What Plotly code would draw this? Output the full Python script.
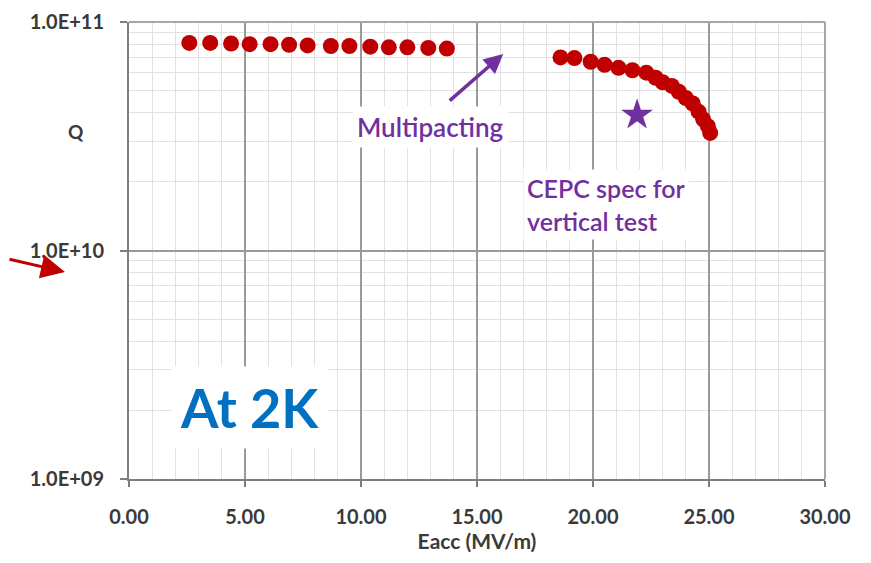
import plotly.graph_objects as go

# Data
eacc_low = [2.6, 3.5, 4.4, 5.2, 6.1, 6.9, 7.7, 8.7, 9.5, 10.4, 11.2, 12.0, 12.9, 13.7]
q_low = [8.1e10, 8.1e10, 8.05e10, 8.0e10, 8.0e10, 7.95e10, 7.9e10, 7.85e10, 7.85e10,
         7.8e10, 7.75e10, 7.75e10, 7.7e10, 7.65e10]
eacc_high = [18.6, 19.2, 19.9, 20.5, 21.1, 21.7, 22.3, 22.7, 23.0, 23.4, 23.7, 24.0,
             24.3, 24.55, 24.75, 24.95, 25.05]
q_high = [7.0e10, 6.95e10, 6.7e10, 6.5e10, 6.3e10, 6.15e10, 6.0e10, 5.7e10, 5.45e10,
          5.25e10, 4.95e10, 4.65e10, 4.4e10, 4.05e10, 3.75e10, 3.5e10, 3.27e10]
spec_eacc = [21.9]
spec_q = [3.92e10]

x_ticks = [0, 5, 10, 15, 20, 25, 30]
y_tickvals = [1e9, 1e10, 1e11]
y_ticktext = ["1.0E+09", "1.0E+10", "1.0E+11"]

RED = "#C00000"
PURPLE = "#7030A0"
BLUE = "#0070C0"
TXT = "#3a3a3a"
FONT = "Lato"

fig = go.Figure()
fig.add_trace(go.Scatter(x=eacc_low, y=q_low, mode="markers",
                         marker=dict(color=RED, size=16, line=dict(width=0)),
                         showlegend=False))
fig.add_trace(go.Scatter(x=eacc_high, y=q_high, mode="markers",
                         marker=dict(color=RED, size=16, line=dict(width=0)),
                         showlegend=False))
fig.add_trace(go.Scatter(x=spec_eacc, y=spec_q, mode="markers",
                         marker=dict(color=PURPLE, size=24, symbol="star", line=dict(width=0)),
                         showlegend=False))

# The page body adds an 8 px margin, so the figure is 8 px smaller than the window
fig.update_layout(
    width=863, height=555,
    margin=dict(l=121, r=46, t=14, b=84),
    paper_bgcolor="white", plot_bgcolor="white",
    font=dict(family=FONT, color=TXT),
)

fig.update_xaxes(
    range=[0, 30], tickvals=x_ticks, tickformat=".2f",
    tickfont=dict(family=FONT, size=20, color=TXT, weight="bold"),
    showgrid=True, gridcolor="#9a9a9a", gridwidth=1.5,
    minor=dict(dtick=1, showgrid=True, gridcolor="#e2e2e2", gridwidth=1),
    showline=True, linecolor="#7f7f7f", linewidth=2, mirror=False,
    ticks="outside", ticklen=6, tickcolor="#7f7f7f", tickwidth=2,
    ticklabelstandoff=13, automargin=False,
    title=dict(text="<b>Eacc (MV/m)</b>", font=dict(family=FONT, size=21, color=TXT), standoff=0),
    zeroline=False,
)
fig.update_yaxes(
    type="log", range=[9, 11], tickvals=y_tickvals, ticktext=y_ticktext,
    tickfont=dict(family=FONT, size=20, color=TXT, weight="bold"),
    showgrid=True, gridcolor="#9a9a9a", gridwidth=1.5,
    minor=dict(dtick="D1", showgrid=True, gridcolor="#e2e2e2", gridwidth=1),
    showline=True, linecolor="#7f7f7f", linewidth=2, mirror=False,
    ticks="outside", ticklen=7, tickcolor="#7f7f7f", tickwidth=2,
    ticklabelstandoff=12, automargin=False,
    zeroline=False,
)

# Frame on top and right
fig.add_shape(type="line", xref="paper", yref="paper", x0=0, x1=1, y0=1, y1=1,
              line=dict(color="#a6a6a6", width=2))
fig.add_shape(type="line", xref="paper", yref="paper", x0=1, x1=1, y0=0, y1=1,
              line=dict(color="#a6a6a6", width=2))

# Y axis title
fig.add_annotation(text="<b>Q</b>", xref="paper", yref="paper", x=-0.09, y=0.79,
                   showarrow=False, font=dict(family=FONT, size=19, color=TXT))

# Multipacting arrow and label
fig.add_annotation(x=16.13, y=10.86, xref="x", yref="y", ax=-55, ay=48,
                   showarrow=True, arrowhead=2, arrowsize=1.1, arrowwidth=3.5,
                   arrowcolor=PURPLE, text="")
fig.add_annotation(text="Multipacting", x=12.98, y=10.54, xref="x", yref="y",
                   showarrow=False, bgcolor="white", borderpad=4,
                   font=dict(family=FONT, size=26, color=PURPLE, weight=600))
fig.add_annotation(text="CEPC spec for<br>vertical test", x=17.0, y=10.2, xref="x", yref="y",
                   xanchor="left", align="left", showarrow=False, bgcolor="white", borderpad=3,
                   font=dict(family=FONT, size=25, color=PURPLE, weight=600))

# At 2K label
fig.add_annotation(text="<b>At 2K</b>", x=5.2, y=9.315, xref="x", yref="y",
                   showarrow=False, bgcolor="white", borderpad=8,
                   font=dict(family=FONT, size=54, color=BLUE))

# Red arrow outside the plot
fig.add_annotation(x=-0.092, y=0.453, xref="paper", yref="paper", ax=-66, ay=-13,
                   showarrow=True, arrowhead=2, arrowsize=1.6, arrowwidth=3,
                   arrowcolor=RED, text="")

fig.write_html("out.html")
